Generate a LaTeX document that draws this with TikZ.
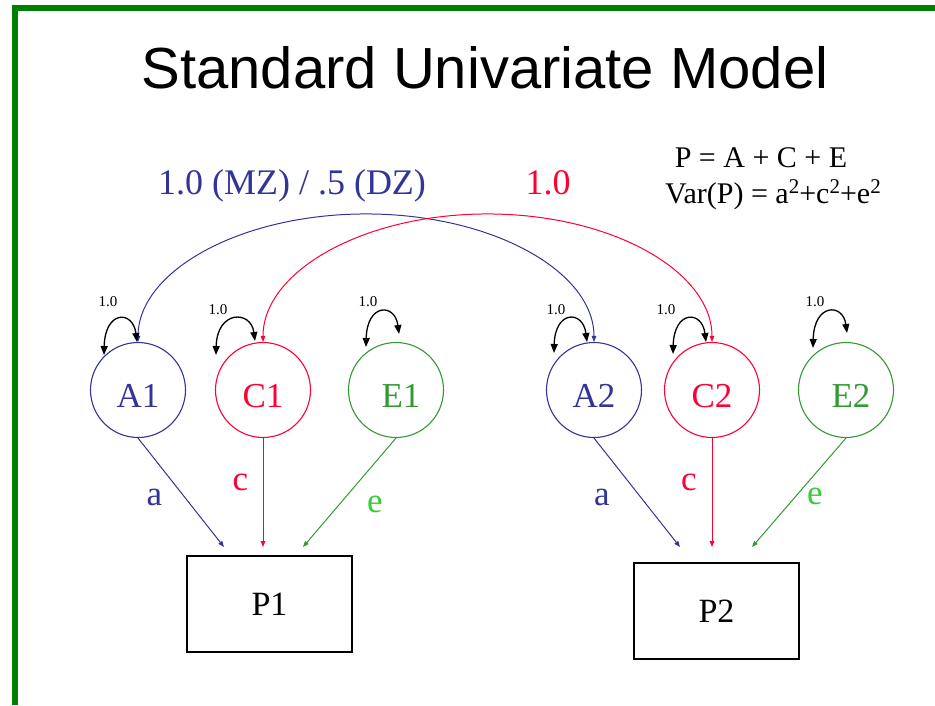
\documentclass[tikz,border=0pt]{standalone}
\usepackage{fontspec}
\setmainfont{Liberation Serif}
\newfontfamily\titlefont{Liberation Sans}
\usetikzlibrary{arrows.meta}
\definecolor{mblue}{HTML}{333399}
\definecolor{mred}{HTML}{FF0033}
\definecolor{mgreen}{HTML}{339933}
\definecolor{lgreen}{HTML}{33CC33}
\definecolor{bgreen}{HTML}{008000}
\newcommand\mysq{\raisebox{10pt}{\fontsize{21}{21}\selectfont 2}}
\begin{document}
\begin{tikzpicture}[x=1pt,y=-1pt,
  latent/.style={circle,draw,line width=1.1pt,minimum size=95pt,inner sep=0pt,
    text height=34pt,text depth=0pt,font=\fontsize{35}{40}\selectfont},
  obs/.style={rectangle,draw=black,line width=1.3pt,minimum width=165pt,minimum height=96pt,
    inner sep=0pt,font=\fontsize{34}{40}\selectfont},
  pathar/.style={line width=1pt,-{Triangle[length=6pt,width=4.5pt]}},
  selfloop/.style={line width=1.3pt,{Triangle[length=9pt,width=7pt]}-{Triangle[length=9pt,width=7pt]}},
  cov/.style={line width=1pt,{Triangle[length=6pt,width=4.5pt]}-{Triangle[length=6pt,width=4.5pt]}},
  plab/.style={font=\fontsize{35}{38}\selectfont,anchor=base,inner sep=0pt},
  smalllab/.style={font=\fontsize{15}{17}\selectfont,anchor=base,inner sep=0pt},
  biglab/.style={font=\fontsize{36}{40}\selectfont,anchor=base,inner sep=0pt},
  formula/.style={font=\fontsize{30}{34}\selectfont,anchor=base,inner sep=0pt}]
\useasboundingbox (0,0) rectangle (935,705);
% green frame
\fill[bgreen] (12,5) rectangle (935,11);
\fill[bgreen] (12,5) rectangle (18,705);
% title
\node[anchor=base,inner sep=0pt,font=\titlefont\fontsize{58}{64}\selectfont] (title) at (485,88) {Standard Univariate Model};
% latent variables
\node[latent,mblue] (A1) at (138,390) {A1};
\node[latent,mred] (C1) at (263,390) {C1};
\node[latent,mgreen] (E1) at (396,390) {\hspace*{10pt}E1};
\node[latent,mblue] (A2) at (594,390) {A2};
\node[latent,mred] (C2) at (712,390) {C2};
\node[latent,mgreen] (E2) at (846,390) {\hspace*{10pt}E2};
% observed
\node[obs] (P1) at (269.5,604) {P1};
\node[obs] (P2) at (716.5,611) {P2};
% arrow ends above the boxes
\coordinate (p1a) at (224,547);
\coordinate (p1c) at (263,547);
\coordinate (p1e) at (303,547);
\coordinate (p2a) at (680,547);
\coordinate (p2c) at (712,547);
\coordinate (p2e) at (752,547);
\draw[pathar,mblue] (A1.south) -- (p1a);
\draw[pathar,mred] (C1.south) -- (p1c);
\draw[pathar,mgreen] (E1.south) -- (p1e);
\draw[pathar,mblue] (A2.south) -- (p2a);
\draw[pathar,mred] (C2.south) -- (p2c);
\draw[pathar,mgreen] (E2.south) -- (p2e);
% path labels
\node[plab,mblue] (la1) at (154.5,505) {a};
\node[plab,mred] (lc1) at (240.5,490) {c};
\node[plab,lgreen] (le1) at (375,512) {e};
\node[plab,mblue] (la2) at (602,505) {a};
\node[plab,mred] (lc2) at (689,490) {c};
\node[plab,lgreen] (le2) at (815,504) {e};
% covariance arcs
\draw[cov,mblue] (A1.north) arc[start angle=180,end angle=360,x radius=228,y radius=128];
\draw[cov,mred] (C1.north) arc[start angle=180,end angle=360,x radius=224.5,y radius=128];
\node[biglab,mblue] (mzdz) at (292,194) {1.0 (MZ) / .5 (DZ)};
\node[biglab,mred] (one) at (548,194) {1.0};
% formulas
\node[formula] (f1) at (761,167) {P = A + C + E};
\node[formula] (f2) at (773,203) {Var(P) = a\mysq+c\mysq+e\mysq};
% variance self loops
\foreach \n/\lx/\ly/\rx/\ry/\t/\qx/\qy in {
  A1/104/355/137/342/320/108/301,
  C1/216/355/255/341/320/218/309,
  E1/366/347/399/334/313/368/301,
  A2/554/353/587/342/320/556/309,
  C2/673/354/706/342/320/666/309,
  E2/813/348/847/333/313/815/301}
{
  \coordinate (\n l) at (\lx,\ly);
  \coordinate (\n r) at (\rx,\ry);
  \draw[selfloop] (\n l) .. controls (\lx+1,\t-10) and (\rx-4,\t-10) .. (\n r);
  \node[smalllab] (\n v) at (\qx,\qy+5) {1.0};
}
\end{tikzpicture}
\end{document}
